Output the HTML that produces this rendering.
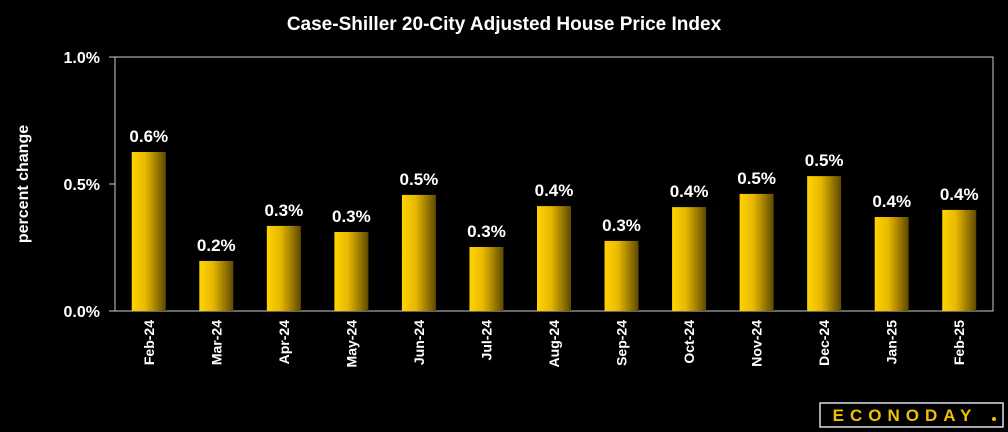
<!DOCTYPE html>
<html><head><meta charset="utf-8"><style>
html,body{margin:0;background:#000;width:1008px;height:432px;overflow:hidden;font-family:"Liberation Sans",sans-serif}
svg{display:block}
</style></head><body>
<svg width="1008" height="432">
<defs><linearGradient id="g" x1="0" x2="1"><stop offset="0" stop-color="#ffd400"/><stop offset="0.4" stop-color="#e8b800"/><stop offset="1" stop-color="#5e4a00"/></linearGradient></defs>
<text x="504" y="30" fill="#fff" font-size="19" font-weight="bold" text-anchor="middle">Case-Shiller 20-City Adjusted House Price Index</text>
<text transform="translate(28,184) rotate(-90)" fill="#fff" font-size="16" font-weight="bold" text-anchor="middle">percent change</text>
<rect x="115" y="57" width="878" height="254" fill="none" stroke="#ccc" stroke-width="1"/>
<g id="yt"></g><g id="bars"></g>
<g>
<rect x="820" y="403" width="183" height="24" fill="#000" stroke="#ddd" stroke-width="1.5"/>
<text x="905" y="421" fill="#f0c000" font-size="17" font-weight="bold" text-anchor="middle" letter-spacing="6">ECONODAY</text>
<circle cx="994" cy="419" r="2" fill="#f0c000"/>
</g>
</svg>
<script>
const categories=["Feb-24","Mar-24","Apr-24","May-24","Jun-24","Jul-24","Aug-24","Sep-24","Oct-24","Nov-24","Dec-24","Jan-25","Feb-25"];
const values=[0.626,0.197,0.335,0.311,0.457,0.252,0.413,0.276,0.409,0.461,0.531,0.370,0.398];
const labels=["0.6%","0.2%","0.3%","0.3%","0.5%","0.3%","0.4%","0.3%","0.4%","0.5%","0.5%","0.4%","0.4%"];
const ticks=[0,0.5,1.0];
const tickLabels=["0.0%","0.5%","1.0%"];
const NS="http://www.w3.org/2000/svg";
const x0=115,w=878,yTop=57,yBot=311;
const y=v=>yBot-(v-0)/(1.0-0)*(yBot-yTop);
const step=w/categories.length;
const xc=i=>x0+step*(i+0.5);
const yt=document.getElementById('yt'),bg=document.getElementById('bars');
function mk(t,a,p){const e=document.createElementNS(NS,t);for(const k in a)e.setAttribute(k,a[k]);p.appendChild(e);return e;}
ticks.forEach((t,i)=>{
 mk('line',{x1:109,x2:115,y1:y(t),y2:y(t),stroke:'#ccc'},yt);
 const e=mk('text',{x:100,y:y(t)+6,fill:'#fff','font-size':16,'font-weight':'bold','text-anchor':'end'},yt);
 
 
 e.textContent=tickLabels[i];
});
categories.forEach((c,i)=>{
 const r=mk('rect',{x:xc(i)-17,y:y(values[i]),width:34,height:yBot-y(values[i]),fill:'url(#g)'},bg);
 
 
 const l=mk('text',{x:xc(i),y:y(values[i])-10,fill:'#fff','font-size':17,'font-weight':'bold','text-anchor':'middle'},bg);
 
 
 l.textContent=labels[i];
 const xl=mk('text',{transform:`translate(${xc(i)+5},320) rotate(-90)`,fill:'#fff','font-size':14,'font-weight':'bold','text-anchor':'end'},bg);
 
 
 xl.textContent=c;
});
</script>
</body></html>
